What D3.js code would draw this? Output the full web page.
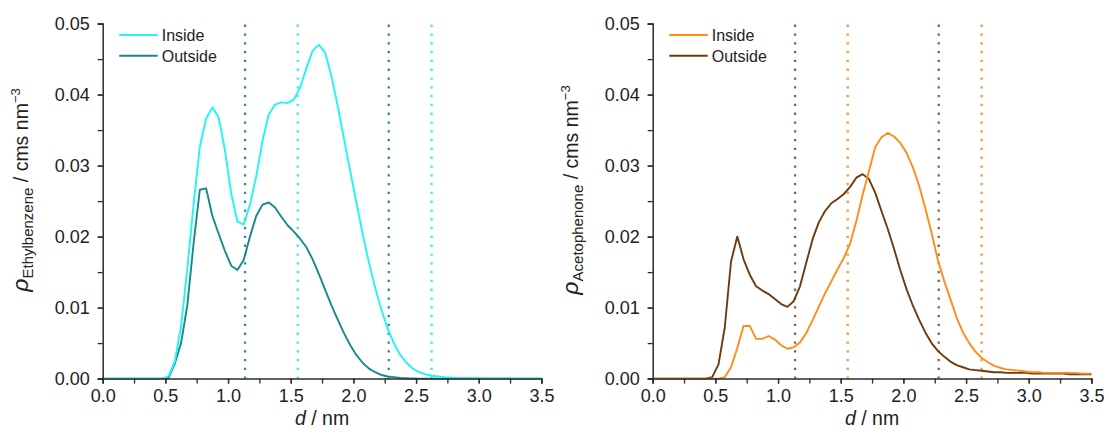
<!DOCTYPE html>
<html><head><meta charset="utf-8">
<script src="https://cdn.jsdelivr.net/npm/d3@7"></script>
<style>
html,body{margin:0;padding:0;background:#fff;}
svg{display:block;font-family:"Liberation Sans",Arial,sans-serif;}
</style></head>
<body><svg id="chart" width="1109" height="439"></svg>
<script>
// distance d / nm (bin centres, plus the two range ends)
const dist = [0.0,0.025,0.075,0.125,0.175,0.225,0.275,0.325,0.375,0.425,0.475,
0.525,0.575,0.625,0.675,0.725,0.775,0.825,0.875,0.925,0.975,
1.025,1.075,1.125,1.175,1.225,1.275,1.325,1.375,1.425,1.475,
1.525,1.575,1.625,1.675,1.725,1.775,1.825,1.875,1.925,1.975,
2.025,2.075,2.125,2.175,2.225,2.275,2.325,2.375,2.425,2.475,
2.525,2.575,2.625,2.675,2.725,2.775,2.825,2.875,2.925,2.975,
3.025,3.075,3.125,3.175,3.225,3.275,3.325,3.375,3.425,3.475,3.5];

const ethylInside = [0,0,0,0,0,0,0,0,0,0,0,
0.0003,0.0024,0.0073,0.0155,0.0245,0.0327,0.0366,0.0382,0.0368,0.0322,
0.0261,0.0221,0.0217,0.0245,0.0285,0.0335,0.0372,0.0386,0.0389,0.0388,
0.0393,0.0410,0.0437,0.0462,0.0470,0.0459,0.0426,0.0384,0.0338,0.0292,
0.0247,0.0203,0.0163,0.0127,0.0096,0.0070,0.0049,0.0033,0.0022,0.0014,
0.0009,0.0006,0.0004,0.0003,0.0002,0.00015,0.0001,0.00008,0.00006,0.00005,
0.00004,0.00003,0.00002,0.00001,0.00001,0,0,0,0,0,0];

const ethylOutside = [0,0,0,0,0,0,0,0,0,0,0,
0.0001,0.0021,0.0050,0.0103,0.0190,0.0266,0.0268,0.0229,0.0204,0.0180,
0.0159,0.0153,0.0167,0.0200,0.0229,0.0245,0.0248,0.0241,0.0228,0.0216,
0.0207,0.0197,0.0185,0.0168,0.0147,0.0125,0.0103,0.0083,0.0064,0.0047,
0.0033,0.0022,0.0014,0.0009,0.0005,0.0003,0.0002,0.0001,0.00005,0.00002,
0,0,0,0,0,0,0,0,0,0,
0,0,0,0,0,0,0,0,0,0,0];

const acetoInside = [0,0,0,0,0,0,0,0,0,0,0,
0,0.0002,0.0016,0.0043,0.0074,0.0074,0.0056,0.0056,0.0060,0.0055,
0.0047,0.0042,0.0044,0.0051,0.0064,0.0082,0.0101,0.0120,0.0137,0.0154,
0.0170,0.0190,0.0222,0.0259,0.0292,0.0326,0.0340,0.0346,0.0341,0.0332,
0.0318,0.0298,0.0272,0.0240,0.0205,0.0167,0.0138,0.0112,0.0086,0.0065,
0.0050,0.0038,0.0029,0.0023,0.0018,0.0015,0.0013,0.0012,0.0011,0.0010,
0.0009,0.0009,0.0008,0.0008,0.0008,0.0008,0.0008,0.0008,0.0007,0.0007,0.0007];

const acetoOutside = [0,0,0,0,0,0,0,0,0,0,0.0002,
0.0020,0.0072,0.0165,0.0200,0.0168,0.0146,0.0130,0.0124,0.0119,0.0112,
0.0105,0.0101,0.0109,0.0130,0.0163,0.0196,0.0220,0.0236,0.0247,0.0253,
0.0260,0.0270,0.0283,0.0288,0.0281,0.0262,0.0236,0.0211,0.0183,0.0153,
0.0126,0.0103,0.0083,0.0065,0.0050,0.0039,0.0031,0.0024,0.0019,0.0016,
0.0013,0.0012,0.0011,0.0010,0.0009,0.0009,0.0008,0.0008,0.0008,0.0008,
0.0007,0.0007,0.0007,0.0007,0.0007,0.0007,0.0006,0.0006,0.0006,0.0006,0.0006];

// vertical reference positions (nm)
const refInside = [1.556, 2.624];
const refOutside = [1.136, 2.282];

const xTicks = [0.0,0.5,1.0,1.5,2.0,2.5,3.0,3.5];
const yTicks = [0.00,0.01,0.02,0.03,0.04,0.05];
const seriesNames = ["Inside","Outside"];

const panels = [
  {sub:"Ethylbenzene", inside:ethylInside, outside:ethylOutside,
   cIn:"#22f5f2", cOut:"#17898a", dIn:"#33f0ee", dOut:"#2a8f8f", left:102.7},
  {sub:"Acetophenone", inside:acetoInside, outside:acetoOutside,
   cIn:"#ff8c1a", cOut:"#6b3c12", dIn:"#ff962e", dOut:"#8a6242", left:652.7}
];

const svg = d3.select("#chart");
const plotW = 438.7, plotTop = 23.6, plotBottom = 378.6;
const axisColor = "#2b2b2b";

panels.forEach(p => {
  const g = svg.append("g");
  const x = d3.scaleLinear().domain([0,3.5]).range([p.left, p.left+plotW]);
  const y = d3.scaleLinear().domain([0,0.05]).range([plotBottom, plotTop]);

  // dotted reference lines
  const refs = refOutside.map(v=>({v, c:p.dOut})).concat(refInside.map(v=>({v,c:p.dIn})));
  g.selectAll("line.ref").data(refs).enter().append("line")
    .attr("x1", d=>x(d.v)).attr("x2", d=>x(d.v))
    .attr("y1", y(0.05)+1).attr("y2", y(0))
    .attr("stroke", d=>d.c).attr("stroke-width", 2.3)
    .attr("stroke-dasharray", "2.3,6.5");

  const line = d3.line().x((d,i)=>x(dist[i])).y(d=>y(d));
  g.append("path").datum(p.outside).attr("d", line)
    .attr("fill","none").attr("stroke",p.cOut).attr("stroke-width",1.9).attr("stroke-linejoin","round");
  g.append("path").datum(p.inside).attr("d", line)
    .attr("fill","none").attr("stroke",p.cIn).attr("stroke-width",1.9).attr("stroke-linejoin","round");

  // axes
  const xAx = g.append("g").attr("transform",`translate(0,${plotBottom})`)
    .call(d3.axisBottom(x).tickValues(d3.range(0,3.5001,0.25)).tickSize(5).tickFormat(""));
  const xAxL = g.append("g").attr("transform",`translate(0,${plotBottom})`)
    .call(d3.axisBottom(x).tickValues(xTicks).tickSize(5).tickPadding(6).tickFormat(d3.format(".1f")));
  const yAx = g.append("g").attr("transform",`translate(${p.left},0)`)
    .call(d3.axisLeft(y).tickValues(d3.range(0,0.05001,0.005)).tickSize(5).tickFormat(""));
  const yAxL = g.append("g").attr("transform",`translate(${p.left},0)`)
    .call(d3.axisLeft(y).tickValues(yTicks).tickSize(5).tickPadding(8).tickFormat(d3.format(".2f")));
  [xAx,xAxL,yAx,yAxL].forEach(a=>{
    a.selectAll("path.domain").attr("stroke",axisColor).attr("stroke-width",1.5);
    a.selectAll("line").attr("stroke",axisColor).attr("stroke-width",1.3);
    a.selectAll("text").attr("fill","#222").style("font-size","18px")
      .style("font-family","'Liberation Sans',Arial,sans-serif");
  });
  xAxL.selectAll("path.domain").remove();
  yAxL.selectAll("path.domain").remove();

  // x title
  const xt = g.append("text").attr("x", p.left+plotW/2).attr("y", 425)
    .attr("text-anchor","middle").attr("fill","#222").style("font-size","19.5px");
  xt.append("tspan").style("font-style","italic").text("d");
  xt.append("tspan").text(" / nm");

  // y title
  const yt = g.append("text")
    .attr("transform",`translate(${p.left-75},190) rotate(-90)`)
    .attr("text-anchor","middle").attr("fill","#222").style("font-size","19.5px");
  yt.append("tspan").style("font-style","italic").style("font-size","23px").text("ρ");
  yt.append("tspan").attr("dy",5).style("font-size","15px").text(p.sub);
  yt.append("tspan").attr("dy",-5).text(" / cms nm");
  yt.append("tspan").attr("dy",-8).style("font-size","13px").text("−3");

  // legend
  const cols = [p.cIn, p.cOut];
  const lg = g.append("g");
  seriesNames.forEach((nm,i)=>{
    const yy = 35 + i*20.8;
    lg.append("line").attr("x1",p.left+16.5).attr("x2",p.left+55)
      .attr("y1",yy).attr("y2",yy).attr("stroke",cols[i]).attr("stroke-width",1.9);
    lg.append("text").attr("x",p.left+59).attr("y",yy+5.8)
      .attr("fill","#222").style("font-size","16px").text(nm);
  });
});
</script></body></html>
